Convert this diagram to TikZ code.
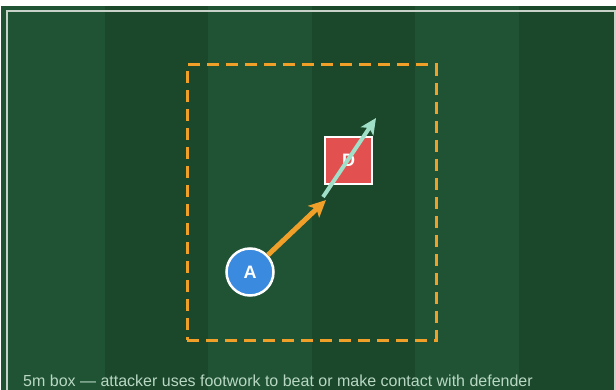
\documentclass[tikz,border=0pt]{standalone}
\usepackage{fontspec}
\setmainfont{Liberation Sans}
\usetikzlibrary{arrows.meta}
\definecolor{lightg}{RGB}{32,82,52}
\definecolor{darkg}{RGB}{27,71,43}
\definecolor{boxorange}{RGB}{240,160,40}
\definecolor{dred}{RGB}{226,80,80}
\definecolor{ablue}{RGB}{58,138,224}
\definecolor{mint}{RGB}{160,224,200}
\definecolor{captext}{RGB}{184,216,196}
\definecolor{fieldline}{RGB}{200,210,200}
\tikzset{
  player/.style={circle,draw=white,line width=2.5pt,fill=ablue,text=white,font=\bfseries\fontsize{18}{18}\selectfont,minimum size=47pt,inner sep=0pt},
  defender/.style={rectangle,draw=white,line width=2.5pt,fill=dred,text=white,font=\bfseries\fontsize{18}{18}\selectfont,minimum size=47pt,inner sep=0pt},
  runarrow/.style={draw=boxorange,line width=5pt,-{Stealth[length=17pt,width=16pt,inset=4pt]}},
  passarrow/.style={draw=mint,line width=4pt,-{Stealth[length=16pt,width=15pt,inset=4pt]}},
  caption/.style={text=captext,font=\fontsize{16}{16}\selectfont,anchor=base west,inner sep=0pt}
}
\begin{document}
\begin{tikzpicture}[x=1pt,y=-1pt]
\useasboundingbox (0,0) rectangle (616,390);
\fill[white] (0,0) rectangle (616,390);
% stripes
\fill[lightg] (1,6) rectangle (105,390);
\fill[darkg] (105,6) rectangle (208,390);
\fill[lightg] (208,6) rectangle (312,390);
\fill[darkg] (312,6) rectangle (415,390);
\fill[lightg] (415,6) rectangle (519,390);
\fill[darkg] (519,6) rectangle (616,390);
% field lines
\draw[fieldline,line width=2pt] (7,392) -- (7,11.5) -- (615,11.5) -- (615,392);
% dashed box
\node[draw=boxorange,line width=3pt,dash pattern=on 12pt off 7pt,minimum width=249pt,minimum height=275pt,inner sep=0pt] (box) at (311.5,202.5) {};
% players
\node[defender] (D) at (348.5,160.5) {D};
\node[player] (A) at (250,272) {A};
\coordinate (aend) at (326,200);
\coordinate (pstart) at (323,197);
\coordinate (pend) at (376,118);
\draw[runarrow] (A) -- (aend);
\draw[passarrow] (pstart) -- (pend);
\node[caption] (cap) at (23,386) {5m box — attacker uses footwork to beat or make contact with defender};
\end{tikzpicture}
\end{document}
